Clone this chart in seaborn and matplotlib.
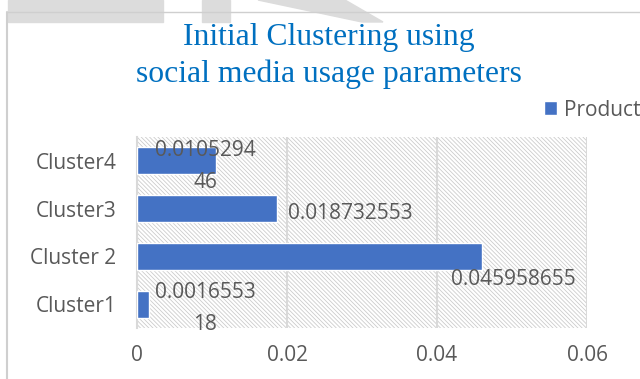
import matplotlib
matplotlib.use('Agg')
import matplotlib.pyplot as plt
import seaborn as sns
import pandas as pd
from matplotlib.patches import Rectangle, Polygon
from matplotlib.lines import Line2D

# data
clusters = ['Cluster4', 'Cluster3', 'Cluster 2', 'Cluster1']
values = [0.010529446, 0.018732553, 0.045958655, 0.001655318]
value_labels = ['0.0105294\n46', '0.018732553', '0.045958655', '0.0016553\n18']
series = 'Product'
xticks = [0, 0.02, 0.04, 0.06]
xtick_labels = ['0', '0.02', '0.04', '0.06']
title_lines = ['Initial Clustering using', 'social media usage parameters']

# label placement relative to the bar end, in pixels
label_offsets = [(-11, -6), (11, -5), (-31, -23), (56, -4)]
label_ha = ['center', 'left', 'left', 'center']

bar_color = '#4472C4'
text_gray = '#595959'
grid_gray = '#D9D9D9'
fs = 15

sns.set_style('white')
plt.rcParams['font.family'] = ['Open Sans', 'DejaVu Sans']
plt.rcParams['hatch.linewidth'] = 0.6
plt.rcParams['hatch.color'] = '#CCCCCC'

df = pd.DataFrame({'cluster': clusters, 'value': values, 'series': series})

W, H = 640, 379
fig = plt.figure(figsize=(W / 100, H / 100), dpi=100)
ax = fig.add_axes([137 / W, 1 - 328 / H, 450 / W, 191 / H])

# faint watermark shapes and chart border
wm = '#DCDCDC'
fig.patches.append(Rectangle((8 / W, 1 - 22 / H), 155 / W, 22 / H,
                             transform=fig.transFigure, color=wm, zorder=0))
fig.patches.append(Rectangle((202 / W, 1 - 22 / H), 28 / W, 22 / H,
                             transform=fig.transFigure, color=wm, zorder=0))
fig.patches.append(Polygon([(258 / W, 1.0), (345 / W, 1.0), (383 / W, 1 - 22 / H),
                            (362 / W, 1 - 22 / H)],
                           transform=fig.transFigure, color=wm, zorder=0))
fig.lines.append(Line2D([7 / W, 1.0], [1 - 12 / H, 1 - 12 / H],
                        transform=fig.transFigure, color='#CFCFCF', lw=1))
fig.lines.append(Line2D([7 / W, 7 / W], [0, 1 - 12 / H],
                        transform=fig.transFigure, color='#CFCFCF', lw=1.5))

# hatched plot area
ax.add_patch(Rectangle((0, 0), 1, 1, transform=ax.transAxes, facecolor='white',
                       edgecolor='#CCCCCC', hatch='\\' * 8, lw=0, zorder=0))

sns.barplot(data=df, y='cluster', x='value', hue='series', order=clusters,
            palette=[bar_color], saturation=1, orient='h', width=0.57, ax=ax,
            zorder=3, legend=True)

ax.set_xlim(0, 0.06)
ax.set_xticks(xticks)
ax.set_xticklabels(xtick_labels)
ax.xaxis.grid(True, color=grid_gray, lw=1.5, zorder=1)
ax.set_axisbelow(True)
for s in ['top', 'right', 'bottom']:
    ax.spines[s].set_visible(False)
ax.spines['left'].set_color(grid_gray)
ax.spines['left'].set_linewidth(1.5)
ax.set_xlabel('')
ax.set_ylabel('')
ax.tick_params(axis='x', length=0, pad=12, labelsize=fs, labelcolor=text_gray)
ax.tick_params(axis='y', length=0, pad=15, labelsize=fs, labelcolor=text_gray)

for i, (v, lab) in enumerate(zip(values, value_labels)):
    ax.annotate(lab, (v, i), xytext=label_offsets[i], textcoords='offset pixels',
                ha=label_ha[i], va='center', fontsize=fs, color=text_gray,
                linespacing=1.7, multialignment='center', zorder=5)

leg = ax.legend(loc='center left', bbox_to_anchor=(544 / W, 1 - 110 / H),
                bbox_transform=fig.transFigure, frameon=False, borderpad=0,
                borderaxespad=0, handlelength=0.62, handleheight=0.66,
                handletextpad=0.35, fontsize=fs)
for t in leg.get_texts():
    t.set_color(text_gray)

for k, line in enumerate(title_lines):
    fig.text(329 / W, 1 - (45 + 37 * k) / H, line, ha='center', va='baseline',
             fontsize=22.8, color='#0070C0',
             family=['Liberation Serif', 'DejaVu Serif'])

fig.savefig('out.png', dpi=100)
